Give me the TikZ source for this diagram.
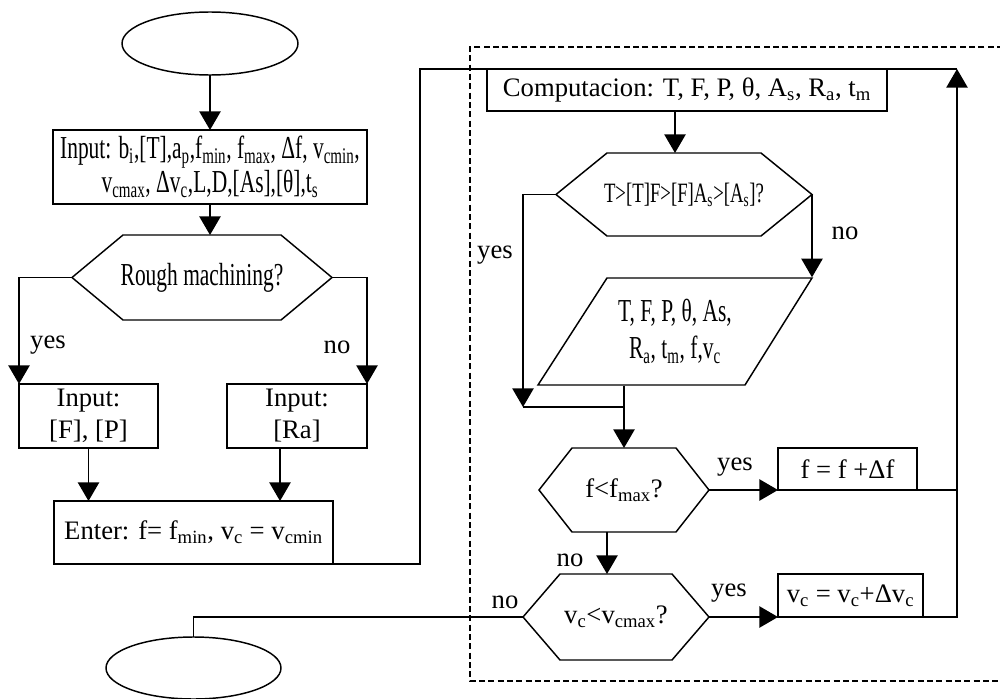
\documentclass[tikz,border=0pt]{standalone}
\usepackage{fontspec}
\setmainfont{Liberation Serif}
\newfontfamily\narrowserif[FakeStretch=0.67]{Liberation Serif}
\usetikzlibrary{arrows.meta,shapes.geometric,calc}

\tikzset{every picture/.style={line width=1.1pt}}
\tikzset{
  txt/.style={font=\fontsize{20}{24}\selectfont, align=center},
  narrowtxt/.style={font=\narrowserif\fontsize{24}{24}\selectfont, align=center},
  procbox/.style={draw, rectangle, inner sep=0pt, outer sep=0pt},
  termnode/.style={draw, ellipse, inner sep=0pt, outer sep=0pt},
  decnode/.style={rectangle, inner sep=0pt, outer sep=0pt},
  lbl/.style={font=\fontsize{20}{24}\selectfont, inner sep=0pt},
  arr/.style={-{Triangle[width=16pt,length=14pt]}},
}
% hexagon round a decision node, #2 = run of the slanted sides
\newcommand{\decshape}[2]{\draw (#1.west) -- ($(#1.north west)+(#2,0)$) -- ($(#1.north east)+(-#2,0)$) -- (#1.east) -- ($(#1.south east)+(-#2,0)$) -- ($(#1.south west)+(#2,0)$) -- cycle;}

\begin{document}
\begin{tikzpicture}[x=0.75pt,y=0.75pt,yscale=-1,xscale=1]
\useasboundingbox (0,0) rectangle (1000,699);

%Flowchart: Terminators
\node [termnode, minimum width=132pt, minimum height=47.25pt] (start) at (210,43.5) {};
\node [termnode, minimum width=131.25pt, minimum height=46.5pt] (stop) at (193.5,668) {};

%Flowchart: Left column
\node [procbox, narrowtxt, minimum width=235.5pt, minimum height=55.5pt] (input) at (210,167)
  {Input: b\textsubscript{i},[T],a\textsubscript{p},f\textsubscript{min}, f\textsubscript{max}, Δf, v\textsubscript{cmin},\\
   v\textsubscript{cmax}, Δv\textsubscript{c},L,D,[As],[θ],t\textsubscript{s}};
\node [decnode, narrowtxt, minimum width=195pt, minimum height=63.75pt] (rough) at (202,277.5) {Rough machining?};
\decshape{rough}{51}
\node [procbox, txt, minimum width=104.25pt, minimum height=48pt] (limfp) at (88.5,416) {Input:\\{[F], [P]}};
\node [procbox, txt, minimum width=105pt, minimum height=48pt] (limra) at (297,416) {Input:\\{[Ra]}};
\node [procbox, txt, minimum width=209.25pt, minimum height=47.25pt] (enter) at (193.5,532.5)
  {Enter: f= f\textsubscript{min}, v\textsubscript{c} = v\textsubscript{cmin}};

%Flowchart: Right column
\node [procbox, txt, minimum width=300pt, minimum height=31.5pt] (comp) at (687,90)
  {Computacion: T, F, P, θ, A\textsubscript{s}, R\textsubscript{a}, t\textsubscript{m}};
\node [decnode, narrowtxt, font=\narrowserif\fontsize{21}{24}\selectfont, minimum width=192pt, minimum height=62.25pt] (check) at (684,194.5)
  {T>[T]F>[F]A\textsubscript{s}>[A\textsubscript{s}]?};
\decshape{check}{51}
%Flowchart: Data
\draw (607,278) -- (812,278) -- (745,385) -- (538,385) -- cycle;
\node [narrowtxt, inner sep=0pt, minimum height=80.25pt] (result) at (675,331.5)
  {T, F, P, θ, As,\\[4pt] R\textsubscript{a}, t\textsubscript{m}, f,v\textsubscript{c}};
\node [decnode, txt, minimum width=127.5pt, minimum height=63pt] (fcheck) at (624,490)
  {f<f\textsubscript{max}?};
\decshape{fcheck}{33}
\node [decnode, txt, minimum width=139.5pt, minimum height=64.5pt] (vcheck) at (616,617)
  {v\textsubscript{c}<v\textsubscript{cmax}?};
\decshape{vcheck}{37}
\node [procbox, txt, minimum width=104.25pt, minimum height=31.5pt] (fstep) at (847.5,469) {f = f +Δf};
\node [procbox, txt, minimum width=108.75pt, minimum height=32.25pt] (vcstep) at (850.5,595.5)
  {v\textsubscript{c} = v\textsubscript{c}+Δv\textsubscript{c}};

%Coordinates
\coordinate (loopl) at (420,69);
\coordinate (loopr) at (957,69);
\coordinate (yesjoin) at (523,407);

%Connectors
\draw [arr] (start.south) -- (input.north);
\draw [arr] (input.south) -- (input.south |- rough.north);
\draw [arr] (rough.west) -| (limfp.north west);
\draw [arr] (rough.east) -| (limra.north east);
\draw [arr] (limfp.south) -- (limfp.south |- enter.north);
\draw [arr] ($(limra.south)+(-17,0)$) coordinate (raout) -- (raout |- enter.north);
\draw (enter.south east) -| (loopl) -- (loopr);
\draw [arr] ($(comp.south)+(-12,0)$) coordinate (compout) -- (compout |- check.north);
\draw [arr] (check.west) -| (yesjoin);
\draw [arr] (check.east) -- (check.east |- result.north);
\draw (yesjoin) -- (yesjoin -| fcheck.north);
\draw [arr] (fcheck.north |- result.south) -- (fcheck.north);
\draw [arr] (fcheck.east) -- (fstep.south west);
\draw (fstep.south east) -- (fstep.south east -| loopr);
\draw [arr] ($(fcheck.south)+(-17,0)$) coordinate (fout) -- (fout |- vcheck.north);
\draw [arr] (vcheck.east) -- (vcstep.south west);
\draw [arr] (vcstep.south east) -| (loopr);
\draw (vcheck.west) -| (stop.north);

%Dashed frame
\draw [dash pattern={on 4.5pt off 2.5pt}, line width=0.9pt] (1003,47) -- (470,47) -- (470,681) -- (1003,681);

%Labels
\node [lbl] (ryes) at (48,345) {yes};
\node [lbl] (rno) at (337,347) {no};
\node [lbl] (cyes) at (495,255) {yes};
\node [lbl] (cno) at (845,233) {no};
\node [lbl] (fyes) at (735,467) {yes};
\node [lbl] (fno) at (570,560) {no};
\node [lbl] (vyes) at (729,593) {yes};
\node [lbl] (vno) at (505,602) {no};
\end{tikzpicture}
\end{document}
